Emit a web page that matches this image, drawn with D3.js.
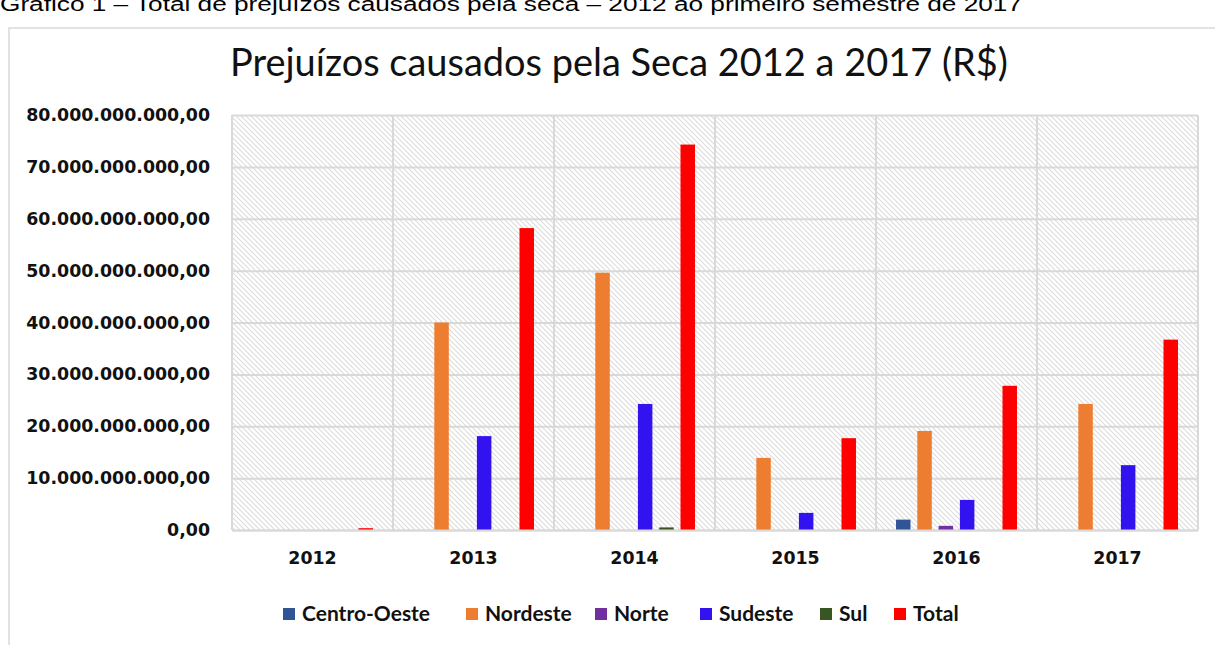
<!DOCTYPE html>
<html lang="pt">
<head>
<meta charset="utf-8">
<title>Prejuízos causados pela Seca 2012 a 2017</title>
<script src="https://cdn.jsdelivr.net/npm/d3@7"></script>
<style>
  body { margin: 0; background: #fff; }
</style>
</head>
<body>
<script>
// dados (em bilhões de R$)
var anos = ["2012", "2013", "2014", "2015", "2016", "2017"];
var regioes = ["Centro-Oeste", "Nordeste", "Norte", "Sudeste", "Sul", "Total"];
var centroOeste = [0, 0, 0, 0, 2.0, 0];
var nordeste    = [0, 40.0, 49.6, 13.9, 19.1, 24.3];
var norte       = [0, 0, 0, 0, 0.8, 0];
var sudeste     = [0, 18.1, 24.3, 3.3, 5.8, 12.5];
var sul         = [0, 0, 0.5, 0, 0, 0];
var total       = [0.35, 58.2, 74.3, 17.7, 27.8, 36.7];
var yTicks = [0, 10, 20, 30, 40, 50, 60, 70, 80];

var series = [centroOeste, nordeste, norte, sudeste, sul, total];
var cores = ["#2F5597", "#ED7D31", "#7030A0", "#3312F0", "#375623", "#FF0000"];

var W = 1215, H = 645;
var pLeft = 232, pRight = 1198, pTop = 115, pBottom = 530;

var svg = d3.select("body").append("svg")
  .attr("width", W).attr("height", H);

// padrão hachurado do fundo
var pat = svg.append("defs").append("pattern")
  .attr("id", "hatch")
  .attr("patternUnits", "userSpaceOnUse")
  .attr("width", 5).attr("height", 5);
pat.append("path")
  .attr("d", "M-1,-1L6,6M4,-1L6,1M-1,4L1,6")
  .attr("stroke", "#dcdcdc")
  .attr("stroke-width", 1.1);

// legenda do documento (cortada no topo)
svg.append("text")
  .attr("x", 0).attr("y", 11)
  .attr("font-family", "Liberation Sans, Arial, sans-serif")
  .attr("font-size", 20)
  .attr("textLength", 1022)
  .attr("lengthAdjust", "spacingAndGlyphs")
  .text("Gráfico 1 – Total de prejuízos causados pela seca – 2012 ao primeiro semestre de 2017");

// moldura
svg.append("path")
  .attr("d", "M9," + H + "V28H" + W)
  .attr("fill", "none")
  .attr("stroke", "#d9d9d9")
  .attr("stroke-width", 1.5);

svg.append("text")
  .attr("x", 619).attr("y", 76)
  .attr("text-anchor", "middle")
  .attr("font-family", "Lato, sans-serif")
  .attr("font-size", 38)
  .attr("fill", "#111")
  .attr("textLength", 778)
  .attr("lengthAdjust", "spacingAndGlyphs")
  .text("Prejuízos causados pela Seca 2012 a 2017 (R$)");

var x0 = d3.scaleBand().domain(anos).range([pLeft, pRight]);
var x1 = d3.scaleBand().domain(regioes).range([0, x0.bandwidth()])
  .paddingInner(0.32).paddingOuter(0.94);
var y = d3.scaleLinear().domain([0, 80]).range([pBottom, pTop]);

svg.append("rect")
  .attr("x", pLeft).attr("y", pTop)
  .attr("width", pRight - pLeft).attr("height", pBottom - pTop)
  .attr("fill", "url(#hatch)");

var ptBR = d3.formatLocale({ decimal: ",", thousands: ".", grouping: [3], currency: ["R$", ""] });
var fmt = ptBR.format(",.2f");

// grade horizontal + rótulos
var yAxis = svg.append("g")
  .attr("transform", "translate(" + pLeft + ",0)")
  .call(d3.axisLeft(y).tickValues(yTicks).tickSize(-(pRight - pLeft)).tickPadding(22)
    .tickFormat(function(d) { return fmt(d * 1e9); }));
yAxis.select(".domain").remove();
yAxis.selectAll("line").attr("stroke", "#d9d9d9").attr("stroke-width", 2);
yAxis.selectAll("text")
  .attr("font-family", "DejaVu Sans, Verdana, sans-serif")
  .attr("font-weight", "bold")
  .attr("font-size", 17.4)
  .attr("fill", "#111");

// grade vertical
svg.append("g").selectAll("line")
  .data(anos.concat(["fim"]))
  .join("line")
  .attr("x1", function(d) { return d === "fim" ? pRight : x0(d); })
  .attr("x2", function(d) { return d === "fim" ? pRight : x0(d); })
  .attr("y1", pTop).attr("y2", pBottom)
  .attr("stroke", "#d9d9d9").attr("stroke-width", 2);

// barras
var grupos = svg.append("g").selectAll("g")
  .data(anos)
  .join("g")
  .attr("transform", function(d) { return "translate(" + x0(d) + ",0)"; });

grupos.selectAll("rect")
  .data(function(d, i) {
    return regioes.map(function(r, j) { return { regiao: r, valor: series[j][i], cor: cores[j] }; });
  })
  .join("rect")
  .attr("x", function(d) { return x1(d.regiao); })
  .attr("width", x1.bandwidth())
  .attr("y", function(d) { return y(d.valor); })
  .attr("height", function(d) { return y(0) - y(d.valor); })
  .attr("fill", function(d) { return d.cor; });

// eixo x
var xAxis = svg.append("g")
  .attr("transform", "translate(0," + pBottom + ")")
  .call(d3.axisBottom(x0).tickSize(0).tickPadding(22));
xAxis.select(".domain").attr("stroke", "#d9d9d9").attr("stroke-width", 2);
xAxis.selectAll("text")
  .attr("font-family", "DejaVu Sans, Verdana, sans-serif")
  .attr("font-weight", "bold")
  .attr("font-size", 17.4)
  .attr("fill", "#111");

// legenda
var legX = [283, 466, 595, 700, 820, 894];
var leg = svg.append("g").selectAll("g")
  .data(regioes)
  .join("g")
  .attr("transform", function(d, i) { return "translate(" + legX[i] + ",614)"; });
leg.append("rect")
  .attr("x", 0).attr("y", -6)
  .attr("width", 12).attr("height", 12)
  .attr("fill", function(d, i) { return cores[i]; });
leg.append("text")
  .attr("x", 19).attr("dy", "0.35em")
  .attr("font-family", "Lato, sans-serif")
  .attr("font-weight", "bold")
  .attr("font-size", 21)
  .attr("fill", "#111")
  .text(function(d) { return d; });
</script>
</body>
</html>
